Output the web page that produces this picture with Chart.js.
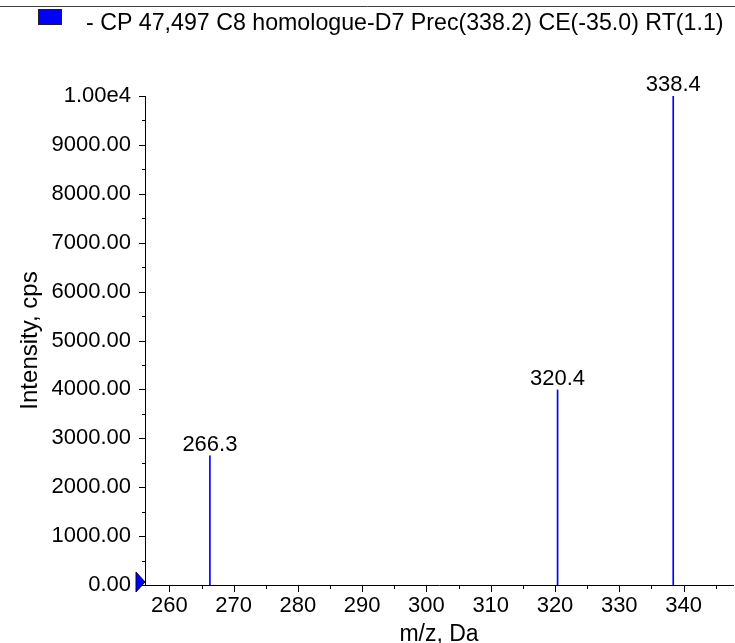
<!DOCTYPE html>
<html>
<head>
<meta charset="utf-8">
<title>CP 47,497 C8 homologue-D7</title>
<script src="https://cdn.jsdelivr.net/npm/chart.js@4.4.1/dist/chart.umd.min.js"></script>
<style>
  html, body { margin: 0; padding: 0; background: #fff; }
  #wrap { width: 735px; height: 643px; position: relative; }
</style>
</head>
<body>
<div id="wrap"><canvas id="spectrum"></canvas></div>
<script>
// peak list
const mzValues = [266.3, 320.4, 338.4];
const intensities = [2640, 3990, 10000];
const peakLabels = ["266.3", "320.4", "338.4"];

const xTicks = [260, 270, 280, 290, 300, 310, 320, 330, 340];
const yTicks = [0, 1000, 2000, 3000, 4000, 5000, 6000, 7000, 8000, 9000, 10000];
const yTickLabels = ["0.00", "1000.00", "2000.00", "3000.00", "4000.00", "5000.00",
  "6000.00", "7000.00", "8000.00", "9000.00", "1.00e4"];

const seriesName = "- CP 47,497 C8 homologue-D7 Prec(338.2) CE(-35.0) RT(1.1)";
const FONT = "'Liberation Sans', Arial, Helvetica, sans-serif";
const BLUE = "#0000ff";

// header line + legend box + series name
const headerPlugin = {
  id: "header",
  afterDraw(chart) {
    const ctx = chart.ctx;
    ctx.save();
    ctx.strokeStyle = "#404040";
    ctx.lineWidth = 1;
    ctx.beginPath();
    ctx.moveTo(0, 6.5);
    ctx.lineTo(chart.width, 6.5);
    ctx.stroke();

    ctx.fillStyle = BLUE;
    ctx.fillRect(38, 9, 24, 16);
    ctx.strokeStyle = "#202020";
    ctx.strokeRect(38.5, 9.5, 23, 15);

    ctx.fillStyle = "#000";
    ctx.font = "23.2px " + FONT;
    ctx.textBaseline = "alphabetic";
    ctx.textAlign = "left";
    ctx.fillText(seriesName, 86, 30);
    ctx.restore();
  }
};

// major + minor ticks, zero marker, peak labels
const marksPlugin = {
  id: "marks",
  afterDatasetsDraw(chart) {
    const ctx = chart.ctx;
    const x = chart.scales.x;
    const y = chart.scales.y;
    const area = chart.chartArea;
    ctx.save();
    ctx.strokeStyle = "#000";
    ctx.lineWidth = 1;
    ctx.beginPath();
    // y ticks every 500, long on the 1000s
    for (let v = 0; v <= 10000; v += 500) {
      const py = Math.round(y.getPixelForValue(v)) + 0.5;
      const len = v % 1000 === 0 ? 6 : 3;
      ctx.moveTo(area.left - len, py);
      ctx.lineTo(area.left, py);
    }
    // x ticks every 5, long on the 10s
    for (let v = 260; v <= x.max; v += 5) {
      const px = Math.round(x.getPixelForValue(v)) + 0.5;
      const len = v % 10 === 0 ? 7 : 4;
      ctx.moveTo(px, area.bottom);
      ctx.lineTo(px, area.bottom + len);
    }
    ctx.stroke();

    // zero marker triangle
    const y0 = y.getPixelForValue(0);
    ctx.fillStyle = BLUE;
    ctx.strokeStyle = "#000040";
    ctx.beginPath();
    ctx.moveTo(area.left - 9, y0 - 13);
    ctx.lineTo(area.left, y0 - 3);
    ctx.lineTo(area.left - 9, y0 + 7);
    ctx.closePath();
    ctx.fill();
    ctx.stroke();

    // peak labels
    ctx.fillStyle = "#000";
    ctx.font = "22px " + FONT;
    ctx.textAlign = "center";
    ctx.textBaseline = "alphabetic";
    chart.getDatasetMeta(0).data.forEach((bar, i) => {
      ctx.fillText(peakLabels[i], bar.x, bar.y - 5);
    });
    ctx.restore();
  }
};

new Chart(document.getElementById("spectrum"), {
  type: "bar",
  data: {
    datasets: [{
      data: mzValues.map((mz, i) => ({ x: mz, y: intensities[i] })),
      backgroundColor: BLUE,
      borderWidth: 0,
      barThickness: 1
    }]
  },
  options: {
    responsive: true,
    maintainAspectRatio: false,
    animation: false,
    events: [],
    layout: { padding: { top: 96, right: 2, left: 0, bottom: 0 } },
    plugins: { legend: { display: false }, tooltip: { enabled: false } },
    scales: {
      x: {
        type: "linear",
        offset: false,
        min: 256.2,
        max: 347.7,
        afterBuildTicks: (scale) => { scale.ticks = xTicks.map(v => ({ value: v })); },
        afterFit: (scale) => { scale.height = 58; },
        ticks: {
          font: { family: FONT, size: 22 },
          color: "#000",
          padding: 8,
          maxRotation: 0,
          callback: (v) => String(v)
        },
        grid: { display: false, drawTicks: false },
        border: { display: true, color: "#000", width: 1 },
        title: {
          display: true,
          text: "m/z, Da",
          font: { family: FONT, size: 23 },
          color: "#000",
          padding: { top: 0, bottom: -5 }
        }
      },
      y: {
        min: 0,
        max: 10000,
        afterBuildTicks: (scale) => { scale.ticks = yTicks.map(v => ({ value: v })); },
        afterFit: (scale) => { scale.width = 145; },
        ticks: {
          font: { family: FONT, size: 22 },
          color: "#000",
          padding: 14,
          callback: (v) => yTickLabels[yTicks.indexOf(v)]
        },
        grid: { display: false, drawTicks: false },
        border: { display: true, color: "#000", width: 1 },
        title: {
          display: true,
          text: "Intensity, cps",
          font: { family: FONT, size: 24 },
          color: "#000",
          padding: { top: 16, bottom: 0 }
        }
      }
    }
  },
  plugins: [headerPlugin, marksPlugin]
});
</script>
</body>
</html>
